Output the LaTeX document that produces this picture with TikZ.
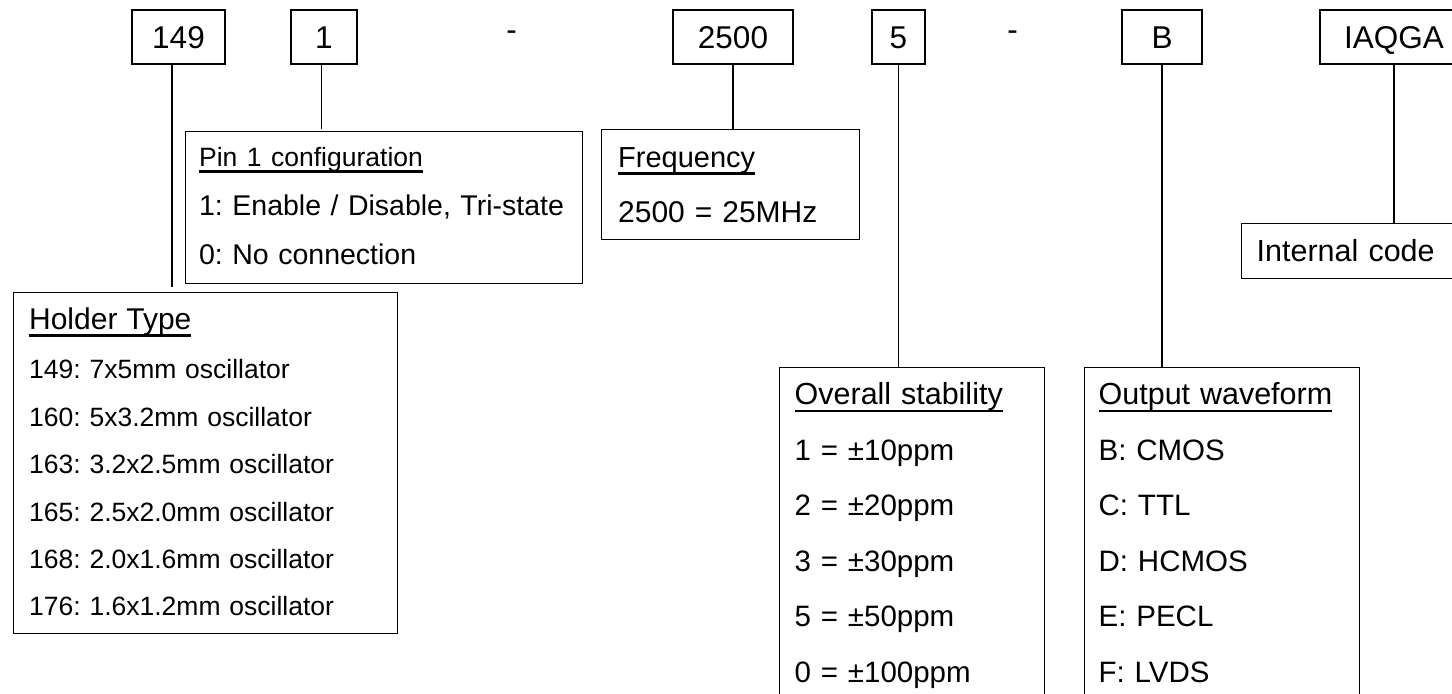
\documentclass[tikz,border=0pt]{standalone}
\usepackage{fontspec}
\setmainfont{Liberation Sans}
\usepackage{tikz}
\frenchspacing
\newcommand{\ulhead}[1]{\setbox0\hbox{#1}\rlap{\rule[\dimexpr-0.15em-1.1pt\relax]{\wd0}{1.1pt}}\box0}
\tikzset{
  codebox/.style={draw,inner sep=0pt,minimum height=27pt,
    font=\fontsize{15.75}{18}\selectfont,text height=11.3pt,text depth=0pt},
  infobox/.style={draw,anchor=north west,inner sep=0pt},
  infotext/.style={anchor=base west,align=left,inner sep=0pt,text width=190pt},
  sepmark/.style={anchor=base,inner sep=0pt,font=\fontsize{15.75}{18}\selectfont},
  link/.style={line width=0.65pt},
}
\begin{document}
\begin{tikzpicture}[x=0.5pt,y=-0.5pt,line width=0.65pt]
\clip (0,0) rectangle (1452,694);
% part number fields
\node[codebox,minimum width=46.5pt] (c149) at (178.5,37) {149};
\node[codebox,minimum width=33pt] (c1) at (324,37) {1};
\node[sepmark] (d1) at (511.5,40.6) {-};
\node[codebox,minimum width=60pt] (c2500) at (733,37) {2500};
\node[codebox,minimum width=26.5pt] (c5) at (898.5,37) {5};
\node[sepmark] (d2) at (1012.5,40.6) {-};
\node[codebox,minimum width=40pt] (cB) at (1162,37) {B};
\node[codebox,minimum width=74pt] (cIAQ) at (1394,37) {IAQGA};

% explanation boxes
\node[infobox,minimum width=198.5pt,minimum height=76pt] (pin) at (185,131) {};
\node[infotext,font=\fontsize{14.25}{24.5}\selectfont] (pintxt) at (198.5,166.5)
  {{\fontsize{13.25}{16}\selectfont\ulhead{Pin 1 configuration}}\\
   1: Enable / Disable, Tri-state\\
   0: No connection};

\node[infobox,minimum width=129pt,minimum height=55pt] (freq) at (601,129) {};
\node[infotext,font=\fontsize{15}{27.5}\selectfont] (freqtxt) at (617.5,168)
  {{\fontsize{14.5}{16}\selectfont\ulhead{Frequency}}\\
   2500 = 25MHz};

\node[infobox,minimum width=192pt,minimum height=170.5pt] (holder) at (13,292) {};
\node[infotext,font=\fontsize{13.25}{23.67}\selectfont] (holdertxt) at (28.5,330)
  {{\fontsize{15}{18}\selectfont\ulhead{Holder Type}}\\[0.83pt]
   149: 7x5mm oscillator\\
   160: 5x3.2mm oscillator\\
   163: 3.2x2.5mm oscillator\\
   165: 2.5x2.0mm oscillator\\
   168: 2.0x1.6mm oscillator\\
   176: 1.6x1.2mm oscillator};

\node[infobox,minimum width=132.5pt,minimum height=180pt] (stab) at (779,367) {};
\node[infotext,font=\fontsize{14.75}{27.75}\selectfont] (stabtxt) at (794,405)
  {{\fontsize{15.25}{18}\selectfont\ulhead{Overall stability}}\\
   1 = ±10ppm\\
   2 = ±20ppm\\
   3 = ±30ppm\\
   5 = ±50ppm\\
   0 = ±100ppm};

\node[infobox,minimum width=137.5pt,minimum height=180pt] (wave) at (1084,367) {};
\node[infotext,font=\fontsize{14.75}{27.75}\selectfont] (wavetxt) at (1098,405)
  {{\fontsize{15.25}{18}\selectfont\ulhead{Output waveform}}\\
   B: CMOS\\
   C: TTL\\
   D: HCMOS\\
   E: PECL\\
   F: LVDS};

\node[infobox,minimum width=109.5pt,minimum height=27.5pt] (intcode) at (1241,223) {};
\node[infotext,font=\fontsize{15.25}{18}\selectfont] (intcodetxt) at (1256,261.7) {Internal code};

% connectors
\coordinate (l149) at ([xshift=-3.25pt]c149.south);
\coordinate (l1) at ([xshift=-1.15pt]c1.south);
\draw[link,shorten >=2.5pt] (l149) -- (l149 |- holder.north);
\draw[link,shorten >=1pt] (l1) -- (l1 |- pin.north);
\draw[link] (c2500.south) -- (c2500.south |- freq.north);
\draw[link] (c5.south) -- (c5.south |- stab.north);
\draw[link] (cB.south) -- (cB.south |- wave.north);
\draw[link] (cIAQ.south) -- (cIAQ.south |- intcode.north);
\end{tikzpicture}
\end{document}
